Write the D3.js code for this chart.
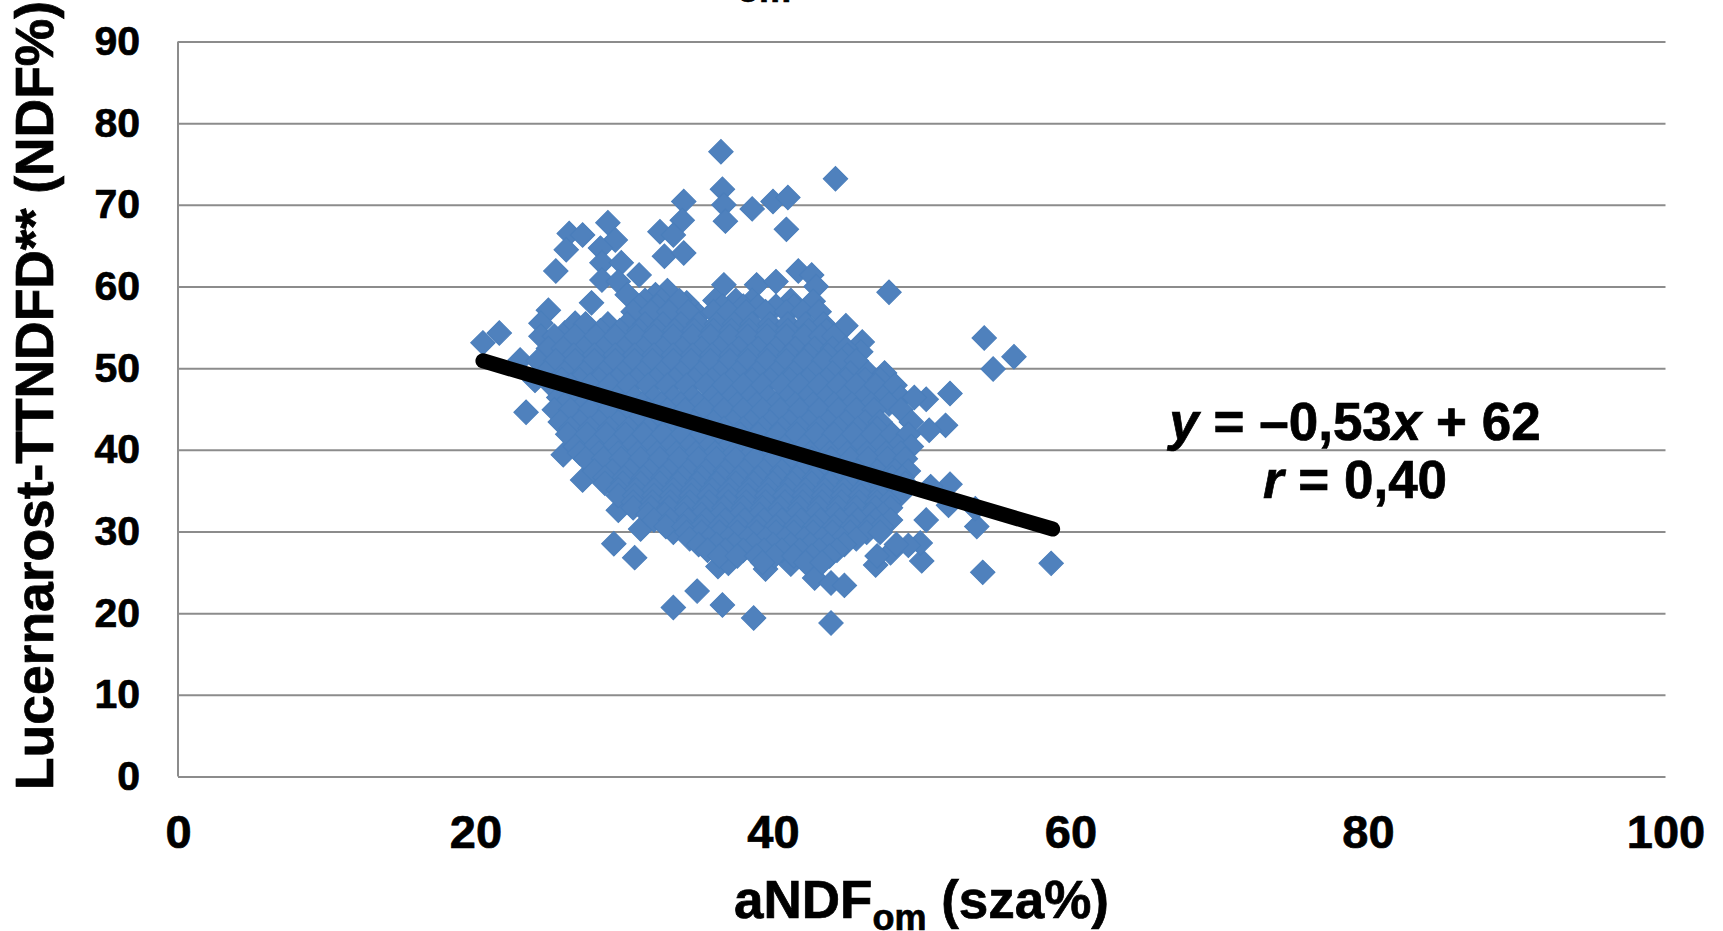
<!DOCTYPE html>
<html lang="hu">

<head>
  <meta charset="UTF-8" />
  <title>Lucernarost-TTNDFD vs aNDFom</title>
  <style>
    html, body {
      margin: 0;
      padding: 0;
      background: #fff;
      overflow: hidden;
    }

    svg {
      display: block;
    }

    text {
      font-family: "Liberation Sans", Arial, sans-serif;
      font-weight: bold;
      fill: #000;
      stroke: #000;
      stroke-width: 0.7px;
    }

    .grid line, .axis-line {
      stroke: #8c8c8c;
      stroke-width: 2px;
    }
  </style>
</head>

<body>
  <div id="chart"></div>
  <script src="https://cdnjs.cloudflare.com/ajax/libs/d3/7.8.5/d3.min.js"></script>
  <script>
    var xTicks = [0, 20, 40, 60, 80, 100];
    var yTicks = [0, 10, 20, 30, 40, 50, 60, 70, 80, 90];

    // points that stand clear of the cloud, read one by one [aNDFom, TTNDFD]
    var loosePoints = [
      [36.5, 76.5], [44.2, 73.2], [36.6, 71.9], [36.7, 70.0], [36.8, 68.0], [38.6, 69.5],
      [40.0, 70.4], [41.0, 70.9], [40.9, 67.0], [34.0, 70.4], [33.9, 68.1], [32.4, 66.7],
      [33.3, 66.3], [32.7, 63.7], [34.0, 64.1], [28.9, 67.8], [29.4, 65.7], [28.4, 64.7],
      [26.3, 66.5], [27.2, 66.3], [26.1, 64.5], [25.4, 61.9], [28.5, 62.9], [29.8, 62.9],
      [28.5, 60.8], [29.6, 60.6], [31.0, 61.4], [30.2, 59.0], [27.8, 58.0], [24.9, 57.1],
      [24.4, 55.5], [24.4, 53.9], [21.6, 54.3], [20.5, 53.1], [23.0, 51.0], [26.0, 54.3],
      [26.7, 55.5], [23.4, 44.6], [24.0, 48.5], [25.9, 39.4], [27.2, 36.3], [29.6, 32.6],
      [29.3, 28.5], [30.7, 26.8], [31.1, 30.3], [33.3, 29.9], [33.3, 20.7], [34.9, 22.7],
      [36.6, 21.0], [38.7, 19.4], [43.9, 18.8], [42.8, 24.3], [43.9, 23.7], [44.8, 23.4],
      [36.3, 25.7], [37.0, 26.1], [39.5, 25.4], [41.2, 26.0], [46.9, 25.9], [47.9, 27.4],
      [50.0, 26.4], [49.9, 28.6], [49.1, 28.3], [50.3, 31.4], [51.8, 33.2], [51.9, 35.8],
      [50.6, 35.5], [53.7, 30.6], [53.6, 32.8], [54.1, 25.0], [58.7, 26.1], [51.9, 46.9],
      [51.6, 43.0], [50.3, 46.2], [50.5, 42.4], [54.2, 53.7], [56.2, 51.4], [54.8, 49.9],
      [47.8, 59.3], [44.9, 55.2], [46.0, 53.2], [45.9, 52.0], [36.7, 60.2], [38.9, 60.2],
      [40.2, 60.6], [41.7, 61.9], [42.6, 61.4], [42.9, 60.0], [42.7, 58.2], [32.9, 59.5],
      [32.1, 59.0], [34.2, 58.0], [35.0, 56.5]
    ];

    // the cloud is too dense to read singly, so it is estimated row by row from its outline
    var cloudRowY = [
      58.3, 57.6, 56.9, 55.4, 54.6, 53.9, 52.4, 51.6, 50.9, 49.4, 48.6, 47.9, 46.4, 45.6,
      44.9, 43.4, 42.6, 41.9, 40.4, 39.6, 38.9, 37.4, 36.6, 35.9, 35.1, 34.4, 33.6, 32.9,
      32.1, 31.4, 30.6, 29.9, 29.1, 28.4, 27.7, 27.0, 26.2
    ];
    var cloudRowX = [
      [31.4, 32.5, 33.7, 36.1, 37.5, 38.6, 41.2],
      [31.0, 32.2, 36.6, 38.0, 39.0, 40.2, 41.4],
      [30.6, 31.8, 33.0, 34.3, 36.0, 37.0, 38.2, 39.5, 40.9, 42.0, 43.1],
      [27.4, 28.9, 30.2, 31.4, 32.6, 33.8, 35.0, 36.2, 37.4, 38.6, 39.8, 41.0, 42.2, 43.4],
      [28.4, 29.7, 31.0, 32.2, 33.4, 34.7, 36.0, 37.2, 38.4, 39.7, 41.0, 42.4, 43.6],
      [25.3, 26.7, 28.1, 29.4, 30.8, 32.0, 33.3, 34.6, 35.8, 37.1, 38.3, 39.6, 40.9, 42.1, 43.2, 44.1],
      [24.9, 25.9, 27.3, 28.6, 30.0, 31.3, 32.6, 33.9, 35.2, 36.4, 37.7, 39.0, 40.2, 41.5, 42.8, 44.0, 44.9],
      [26.6, 28.0, 29.4, 30.7, 32.0, 33.3, 34.6, 35.9, 37.2, 38.5, 39.8, 41.1, 42.4, 43.7, 45.0],
      [24.2, 25.4, 26.7, 28.0, 29.4, 30.7, 31.9, 33.3, 34.5, 35.8, 37.1, 38.3, 39.6, 40.9, 42.1, 43.4, 44.6, 45.6],
      [24.7, 26.0, 27.3, 28.6, 29.9, 31.2, 32.5, 33.8, 35.1, 36.4, 37.6, 38.9, 40.2, 41.4, 42.7, 44.0, 45.2, 46.4, 47.5],
      [25.8, 27.0, 28.3, 29.5, 30.8, 32.1, 33.4, 34.7, 35.9, 37.2, 38.6, 39.8, 41.1, 42.3, 43.6, 44.9, 46.2, 47.2],
      [25.1, 26.4, 27.7, 29.0, 30.3, 31.6, 32.9, 34.2, 35.5, 36.7, 38.0, 39.3, 40.6, 41.8, 43.1, 44.4, 45.6, 46.9, 48.2],
      [25.6, 26.9, 28.2, 29.5, 30.7, 32.0, 33.3, 34.6, 35.9, 37.2, 38.5, 39.7, 41.0, 42.3, 43.6, 44.8, 46.1, 47.4, 48.6, 49.5],
      [26.0, 27.3, 28.6, 29.9, 31.2, 32.5, 33.8, 35.0, 36.3, 37.6, 38.9, 40.2, 41.5, 42.7, 44.1, 45.3, 46.6, 47.8],
      [25.3, 26.4, 27.7, 29.0, 30.3, 31.6, 32.9, 34.1, 35.4, 36.7, 38.0, 39.3, 40.5, 41.8, 43.1, 44.4, 45.6, 46.8, 48.6],
      [25.7, 27.0, 28.3, 29.6, 30.8, 32.1, 33.4, 34.7, 36.0, 37.3, 38.5, 39.8, 41.1, 42.4, 43.7, 44.9, 46.2, 47.2, 49.3],
      [26.4, 27.7, 29.0, 30.3, 31.6, 32.9, 34.2, 35.5, 36.7, 38.0, 39.3, 40.6, 41.8, 43.1, 44.4, 45.7, 47.0],
      [26.2, 27.5, 28.8, 30.1, 31.3, 32.6, 33.9, 35.2, 36.5, 37.8, 39.0, 40.3, 41.6, 42.9, 44.1, 45.4, 46.7, 48.0, 49.1],
      [26.7, 28.0, 29.3, 30.5, 31.8, 33.1, 34.4, 35.7, 37.0, 38.2, 39.5, 40.8, 42.1, 43.4, 44.6, 45.9, 47.2, 48.4, 49.3],
      [27.0, 28.3, 29.6, 30.9, 32.2, 33.5, 34.8, 36.1, 37.4, 38.6, 39.9, 41.2, 42.5, 43.8, 45.0, 46.3, 47.6, 48.6],
      [27.4, 28.6, 29.8, 31.1, 32.4, 33.7, 35.0, 36.2, 37.5, 38.8, 40.1, 41.3, 42.6, 43.9, 45.2, 46.4, 47.7, 48.9],
      [28.0, 29.2, 30.4, 31.7, 33.0, 34.3, 35.5, 36.8, 38.1, 39.4, 40.6, 41.9, 43.2, 44.5, 45.7, 47.0, 48.2, 49.1],
      [28.7, 30.0, 31.3, 32.6, 33.9, 35.2, 36.5, 37.7, 39.0, 40.3, 41.6, 42.8, 44.1, 45.4, 46.7, 48.0, 48.7],
      [28.7, 29.9, 31.1, 32.4, 33.6, 34.9, 36.2, 37.5, 38.7, 40.0, 41.3, 42.6, 43.8, 45.1, 46.4, 47.7, 48.9],
      [29.6, 30.8, 32.0, 33.3, 34.6, 35.9, 37.1, 38.4, 39.7, 41.0, 42.2, 43.5, 44.8, 46.0, 47.3, 48.4],
      [29.6, 30.7, 32.0, 33.2, 34.5, 35.7, 37.0, 38.3, 39.6, 40.8, 42.1, 43.4, 44.7, 45.9, 47.2, 48.5],
      [30.6, 31.9, 33.1, 34.4, 35.7, 37.0, 38.2, 39.5, 40.8, 42.0, 43.3, 44.6, 45.8, 47.0, 47.8],
      [30.6, 31.8, 33.0, 34.2, 35.4, 36.7, 38.0, 39.3, 40.5, 41.8, 43.1, 44.4, 45.6, 46.9, 47.9],
      [31.6, 32.7, 34.0, 35.2, 36.5, 37.8, 39.1, 40.3, 41.6, 42.9, 44.2, 45.4, 46.6, 47.4],
      [32.0, 33.1, 34.3, 35.5, 36.8, 38.1, 39.4, 40.6, 41.9, 43.2, 44.5, 45.7, 46.9, 47.9],
      [32.8, 34.0, 35.2, 36.4, 37.7, 39.0, 40.2, 41.5, 42.8, 44.1, 45.3, 46.5, 47.3],
      [34.2, 35.2, 36.4, 37.6, 38.9, 40.2, 41.4, 42.7, 44.0, 45.2, 46.3, 47.2],
      [34.4, 35.7, 37.0, 38.3, 39.5, 40.8, 42.1, 43.3, 44.6, 45.6],
      [35.0, 36.2, 37.4, 38.7, 40.0, 41.2, 42.5, 43.7, 44.8, 48.3],
      [35.6, 36.8, 38.0, 39.4, 40.6, 41.8, 43.1, 44.3],
      [36.4, 37.6, 38.9, 40.1, 41.4, 42.6, 43.8, 47.0],
      [39.3, 42.2, 43.3]
    ];

    var trendX = [20.5, 58.8];
    var trendY = [50.9, 30.3];

    var w = 1723,
      h = 931;

    var svg = d3.select("#chart").append("svg")
      .attr("width", w)
      .attr("height", h);

    var x = d3.scaleLinear().domain([0, 100]).range([178, 1665.5]);
    var y = d3.scaleLinear().domain([0, 90]).range([776.5, 41.5]);

    // gridlines and left axis line sit under the markers
    svg.append("g")
      .attr("class", "grid")
      .attr("transform", "translate(178,0)")
      .call(d3.axisLeft(y).tickValues(yTicks).tickSize(-(1665.5 - 178)).tickFormat(""))
      .call(function(g) {
        g.select(".domain").remove();
      });

    svg.append("line")
      .attr("class", "axis-line")
      .attr("x1", x(0))
      .attr("x2", x(0))
      .attr("y1", y(0))
      .attr("y2", y(90));

    var points = loosePoints.slice();
    cloudRowY.forEach(function(rowY, i) {
      cloudRowX[i].forEach(function(rowX) {
        points.push([rowX, rowY]);
      });
    });

    var diamond = d3.symbol().type(d3.symbolSquare).size(300);

    svg.append("g")
      .selectAll("path")
      .data(points)
      .enter()
      .append("path")
      .attr("d", diamond)
      .attr("transform", function(d) {
        return "translate(" + x(d[0]) + "," + y(d[1]) + ") rotate(45)";
      })
      .attr("fill", "#4f81bd")
      .attr("stroke", "#4a7ebb")
      .attr("stroke-width", 1);

    var trend = d3.line()
      .x(function(d) { return x(d); })
      .y(function(d, i) { return y(trendY[i]); });

    svg.append("path")
      .attr("d", trend(trendX))
      .attr("fill", "none")
      .attr("stroke", "#000")
      .attr("stroke-width", 15)
      .attr("stroke-linecap", "round");

    var yAxis = svg.append("g")
      .attr("transform", "translate(178,0)")
      .call(d3.axisLeft(y).tickValues(yTicks).tickSize(0).tickPadding(38));
    yAxis.select(".domain").remove();
    yAxis.selectAll("text")
      .style("font-size", "41px");

    var xAxis = svg.append("g")
      .attr("transform", "translate(0,776.5)")
      .call(d3.axisBottom(x).tickValues(xTicks).tickSize(0));
    xAxis.select(".domain").remove();
    xAxis.selectAll("text")
      .attr("y", 71.5)
      .attr("dy", 0)
      .style("font-size", "47px");

    // y axis title
    svg.append("text")
      .attr("transform", "translate(53,790) rotate(-90)")
      .style("font-size", "53.4px")
      .text("Lucernarost-TTNDFD** (NDF%)");

    // x axis title with subscript
    var xTitle = svg.append("text")
      .attr("x", 734)
      .attr("y", 918)
      .style("font-size", "53px");
    xTitle.append("tspan").text("aNDF");
    xTitle.append("tspan").attr("dy", 12).style("font-size", "36px").text("om");
    xTitle.append("tspan").attr("dy", -12).text(" (sza%)");

    // equation block
    var eq1 = svg.append("text")
      .attr("x", 1355)
      .attr("y", 440)
      .attr("text-anchor", "middle")
      .style("font-size", "53px");
    eq1.append("tspan").style("font-style", "italic").text("y");
    eq1.append("tspan").text(" = –0,53");
    eq1.append("tspan").style("font-style", "italic").text("x");
    eq1.append("tspan").text(" + 62");

    var eq2 = svg.append("text")
      .attr("x", 1355)
      .attr("y", 498)
      .attr("text-anchor", "middle")
      .style("font-size", "53px");
    eq2.append("tspan").style("font-style", "italic").text("r");
    eq2.append("tspan").text(" = 0,40");

    // bottom of a subscript cut off by the picture's top edge
    svg.append("text")
      .attr("x", 737)
      .attr("y", 2)
      .style("font-size", "36px")
      .text("om");
  </script>
</body>

</html>
